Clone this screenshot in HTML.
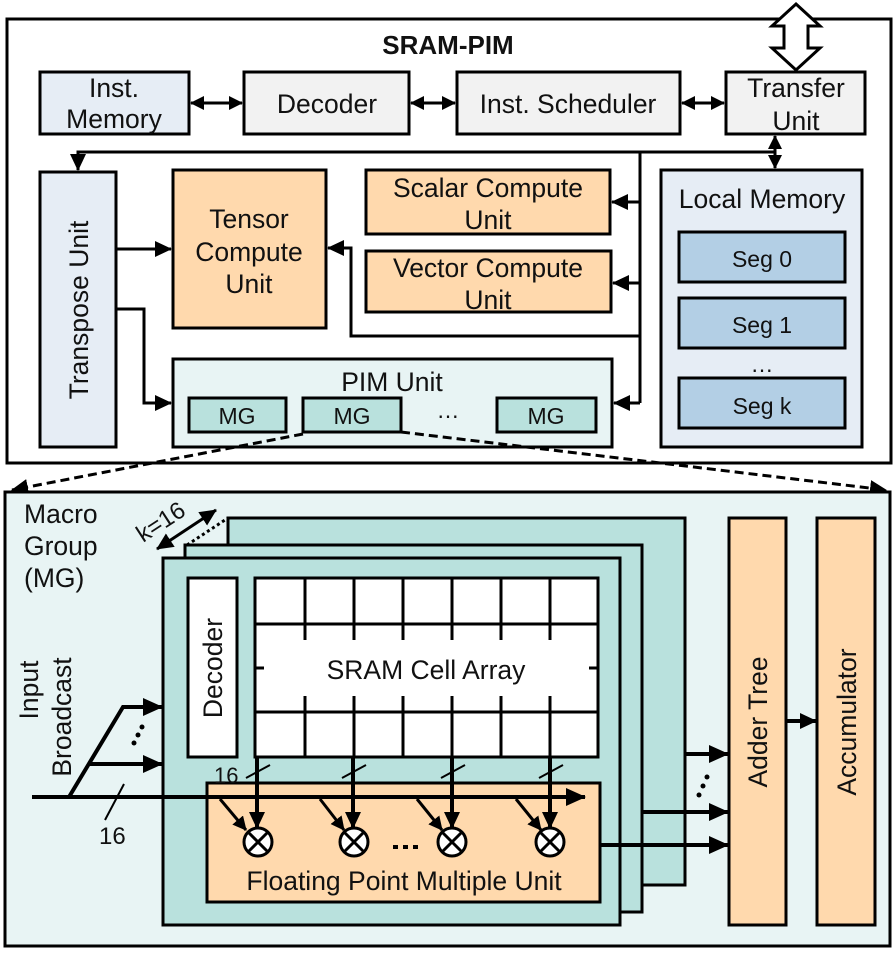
<!DOCTYPE html>
<html><head><meta charset="utf-8"><style>
html,body{margin:0;padding:0;background:#fff}
svg{display:block}
text{font-family:"Liberation Sans",Arial,sans-serif;fill:#111}
</style></head><body>
<svg width="896" height="959" viewBox="0 0 896 959" xmlns="http://www.w3.org/2000/svg">
<defs>
<marker id="a" markerWidth="14" markerHeight="14" refX="13" refY="7" orient="auto-start-reverse" markerUnits="userSpaceOnUse"><path d="M0,0 L14,7 L0,14 z" fill="#000"/></marker>
<marker id="b" markerWidth="20" markerHeight="18" refX="19" refY="9" orient="auto-start-reverse" markerUnits="userSpaceOnUse"><path d="M0,0 L20,9 L0,18 z" fill="#000"/></marker>
<marker id="c" markerWidth="17" markerHeight="16" refX="16" refY="8" orient="auto-start-reverse" markerUnits="userSpaceOnUse"><path d="M0,0 L17,8 L0,16 z" fill="#000"/></marker>
</defs>
<g stroke="#000" stroke-width="3">
<rect x="7" y="19" width="884" height="444" fill="#fff"/>
<rect x="40" y="72" width="149" height="62" fill="#e6edf5"/>
<rect x="244" y="72" width="165" height="62" fill="#f2f2f2"/>
<rect x="457" y="72" width="223" height="62" fill="#f2f2f2"/>
<rect x="726" y="72" width="139" height="62" fill="#f2f2f2"/>
<rect x="40" y="172" width="76" height="275" fill="#e6edf5"/>
<rect x="173" y="170" width="153" height="158" fill="#ffd9ad"/>
<rect x="366" y="170" width="244" height="64" fill="#ffd9ad"/>
<rect x="366" y="251" width="245" height="61" fill="#ffd9ad"/>
<rect x="173" y="359" width="439" height="88" fill="#e8f4f4"/>
<rect x="189" y="398" width="97" height="34" fill="#b9e1dd"/>
<rect x="303" y="398" width="98" height="34" fill="#b9e1dd"/>
<rect x="497" y="398" width="99" height="34" fill="#b9e1dd"/>
<rect x="661" y="170" width="201" height="277" fill="#e6edf5"/>
<rect x="679" y="232" width="166" height="50" fill="#b3cfe5"/>
<rect x="679" y="298" width="166" height="50" fill="#b3cfe5"/>
<rect x="679" y="378" width="166" height="50" fill="#b3cfe5"/>
</g>
<path d="M796,4 L820,26 L808,26 L808,48 L820,48 L796,70 L772,48 L784,48 L784,26 L772,26 Z" fill="#fff" stroke="#000" stroke-width="3"/>
<g stroke="#000" stroke-width="3" fill="none">
<line x1="191" y1="103" x2="242" y2="103" marker-start="url(#a)" marker-end="url(#a)"/>
<line x1="411" y1="103" x2="455" y2="103" marker-start="url(#a)" marker-end="url(#a)"/>
<line x1="682" y1="103" x2="724" y2="103" marker-start="url(#a)" marker-end="url(#a)"/>
<line x1="775" y1="136" x2="775" y2="168" marker-start="url(#a)" marker-end="url(#a)"/>
<polyline points="775,152 78,152 78,170" marker-end="url(#c)"/>
<line x1="640" y1="152" x2="640" y2="403"/>
<line x1="640" y1="202" x2="612" y2="202" marker-end="url(#c)"/>
<line x1="640" y1="283" x2="613" y2="283" marker-end="url(#c)"/>
<line x1="640" y1="403" x2="614" y2="403" marker-end="url(#c)"/>
<polyline points="640,336 351,336 351,248 328,248" marker-end="url(#c)"/>
<line x1="116" y1="249" x2="171" y2="249" marker-end="url(#c)"/>
<polyline points="116,309 144,309 144,403 171,403" marker-end="url(#c)"/>
</g>
<g font-size="26.5" text-anchor="middle">
<text x="448" y="54" font-weight="bold" font-size="26">SRAM-PIM</text>
<text x="114" y="97">Inst.</text><text x="114" y="128">Memory</text>
<text x="327" y="113">Decoder</text>
<text x="568" y="113">Inst. Scheduler</text>
<text x="796" y="97">Transfer</text><text x="796" y="130">Unit</text>
<text x="249" y="228">Tensor</text><text x="249" y="261">Compute</text><text x="249" y="293">Unit</text>
<text x="488" y="197">Scalar Compute</text><text x="488" y="229">Unit</text>
<text x="488" y="277">Vector Compute</text><text x="488" y="309">Unit</text>
<text transform="translate(88,310) rotate(-90)">Transpose Unit</text>
<text x="392" y="391">PIM Unit</text>
<text x="762" y="208">Local Memory</text>
</g>
<g font-size="23" text-anchor="middle">
<text x="237" y="424">MG</text><text x="352" y="424">MG</text><text x="546" y="424">MG</text>
<text x="448" y="418">…</text>
<text x="762" y="267">Seg 0</text><text x="762" y="333">Seg 1</text><text x="762" y="372">…</text><text x="762" y="414">Seg k</text>
</g>
<g stroke="#000" stroke-width="3" stroke-dasharray="9,5" fill="none">
<line x1="303" y1="434" x2="12" y2="490" marker-end="url(#c)"/>
<line x1="401" y1="432" x2="886" y2="490" marker-end="url(#c)"/>
</g>
<g stroke="#000" stroke-width="3">
<rect x="5" y="492" width="885" height="454" fill="#e8f4f4"/>
<rect x="228" y="518" width="457" height="367" fill="#b9e1dd"/>
<rect x="185" y="545" width="457" height="367" fill="#b9e1dd"/>
<rect x="163" y="558" width="457" height="367" fill="#b9e1dd"/>
<rect x="188" y="578" width="49" height="179" fill="#fff"/>
<rect x="255" y="578" width="343" height="179" fill="#fff"/>
<rect x="207" y="783" width="393" height="119" fill="#ffd9ad"/>
<rect x="729" y="518" width="57" height="407" fill="#ffd9ad"/>
<rect x="817" y="518" width="58" height="407" fill="#ffd9ad"/>
</g>
<g stroke="#000" stroke-width="3" fill="none">
<line x1="255" y1="624" x2="598" y2="624"/>
<line x1="255" y1="712" x2="598" y2="712"/>
<path d="M305,578V640M354,578V640M403,578V640M452,578V640M501,578V640M550,578V640M305,696V757M354,696V757M403,696V757M452,696V757M501,696V757M550,696V757M255,668H264M589,668H598"/>
<line x1="32" y1="797" x2="585" y2="797" marker-end="url(#b)" stroke-width="4"/>
<polyline points="69,797 123,707 162,707" stroke-width="4" marker-end="url(#b)"/>
<line x1="89" y1="764" x2="162" y2="764" stroke-width="4" marker-end="url(#b)"/>
<line x1="105" y1="820" x2="124" y2="784" stroke-width="2"/>
<g stroke-width="4">
<line x1="257" y1="757" x2="257" y2="828" marker-end="url(#c)"/>
<line x1="353" y1="757" x2="353" y2="828" marker-end="url(#c)"/>
<line x1="452" y1="757" x2="452" y2="828" marker-end="url(#c)"/>
<line x1="550" y1="757" x2="550" y2="828" marker-end="url(#c)"/>
</g>
<path d="M246,778L270,765M342,778L366,765M441,778L465,765M539,778L563,765" stroke-width="2"/>
<line x1="220" y1="799" x2="246" y2="830" marker-end="url(#a)"/>
<line x1="320" y1="799" x2="344" y2="830" marker-end="url(#a)"/>
<line x1="417" y1="799" x2="442" y2="830" marker-end="url(#a)"/>
<line x1="516" y1="799" x2="541" y2="830" marker-end="url(#a)"/>
<line x1="685" y1="754" x2="728" y2="754" stroke-width="4" marker-end="url(#b)"/>
<line x1="642" y1="812" x2="728" y2="812" stroke-width="4" marker-end="url(#b)"/>
<line x1="600" y1="845" x2="728" y2="845" stroke-width="4" marker-end="url(#b)"/>
<line x1="786" y1="721" x2="816" y2="721" stroke-width="4" marker-end="url(#c)"/>
<line x1="157" y1="549" x2="216" y2="510" marker-start="url(#c)" marker-end="url(#c)"/>
<line x1="187" y1="545" x2="228" y2="518" stroke-dasharray="3,3"/>
</g>
<g stroke="#000" stroke-width="3" fill="#fff">
<g id="m"><circle cx="258" cy="842" r="14"/><path d="M248,832L268,852M268,832L248,852"/></g>
<use href="#m" x="96"/><use href="#m" x="194"/><use href="#m" x="292"/>
</g>
<g fill="#000"><circle cx="134" cy="743" r="2.5"/><circle cx="138" cy="735" r="2.5"/><circle cx="142" cy="727" r="2.5"/>
<circle cx="699" cy="795" r="2.5"/><circle cx="703" cy="786" r="2.5"/><circle cx="707" cy="777" r="2.5"/>
<rect x="393" y="845" width="5" height="4"/><rect x="403" y="845" width="5" height="4"/><rect x="413" y="845" width="5" height="4"/></g>
<g font-size="26.5">
<text x="24" y="523">Macro</text><text x="24" y="555">Group</text><text x="24" y="587">(MG)</text>
<text x="426" y="679" text-anchor="middle">SRAM Cell Array</text>
<text x="404" y="890" text-anchor="middle">Floating Point Multiple Unit</text>
<text transform="translate(222,668) rotate(-90)" text-anchor="middle">Decoder</text>
<text transform="translate(38,690) rotate(-90)" text-anchor="middle">Input</text>
<text transform="translate(71,717) rotate(-90)" text-anchor="middle">Broadcast</text>
<text transform="translate(767,722) rotate(-90)" text-anchor="middle">Adder Tree</text>
<text transform="translate(856,722) rotate(-90)" text-anchor="middle">Accumulator</text>
<text x="99" y="844" font-size="24">16</text>
<text x="214" y="783" font-size="22">16</text>
<text transform="translate(143,543) rotate(-33)" font-size="24">k=16</text>
</g>
</svg>
</body></html>
